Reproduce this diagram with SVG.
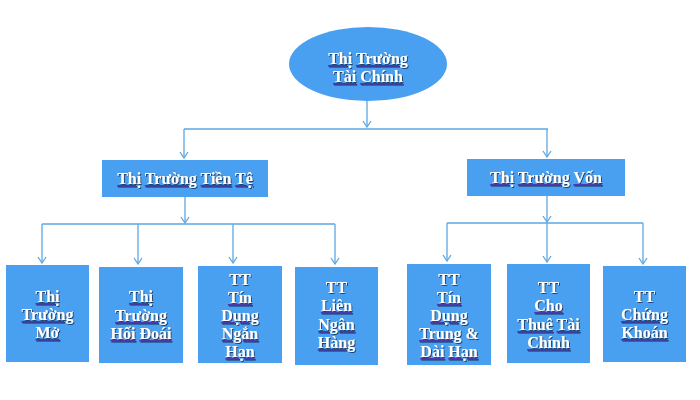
<svg xmlns="http://www.w3.org/2000/svg" width="700" height="400" viewBox="0 0 700 400">
<style>
.node{fill:#499ff0;}
.lbl{font-family:"Liberation Serif","Times New Roman",serif;font-weight:bold;font-size:16px;fill:#ffffff;text-anchor:middle;filter:url(#sh);}
.u{text-decoration:underline;fill:#4a37b0;}
.w{fill:#ffffff;}
.conn{fill:none;stroke:#5ea7e0;stroke-width:1.3;}
</style>
<defs>
<filter id="sh" x="-20%" y="-20%" width="140%" height="140%">
<feDropShadow dx="1" dy="1" stdDeviation="0.3" flood-color="#1a2a4a" flood-opacity="0.8"/>
</filter>
<marker id="arr" viewBox="0 0 8 10" refX="7" refY="5" markerWidth="8" markerHeight="10" markerUnits="userSpaceOnUse" orient="auto">
<path d="M1,1 L7,5 L1,9" fill="none" stroke="#5ea7e0" stroke-width="1.3"/>
</marker>
</defs>
<rect width="700" height="400" fill="#ffffff"/>

<g id="connectors">
<path class="conn" d="M367,100 V127" marker-end="url(#arr)"/>
<path class="conn" d="M184,129 H548"/>
<path class="conn" d="M184,129 V158" marker-end="url(#arr)"/>
<path class="conn" d="M547,129 V157" marker-end="url(#arr)"/>
<path class="conn" d="M185,197 V223" marker-end="url(#arr)"/>
<path class="conn" d="M42,224 H335"/>
<path class="conn" d="M42,224 V263" marker-end="url(#arr)"/>
<path class="conn" d="M138,224 V264" marker-end="url(#arr)"/>
<path class="conn" d="M233,224 V263" marker-end="url(#arr)"/>
<path class="conn" d="M335,224 V264" marker-end="url(#arr)"/>
<path class="conn" d="M547,196 V222" marker-end="url(#arr)"/>
<path class="conn" d="M447,223 H643"/>
<path class="conn" d="M447,223 V261" marker-end="url(#arr)"/>
<path class="conn" d="M547,223 V262" marker-end="url(#arr)"/>
<path class="conn" d="M643,223 V264" marker-end="url(#arr)"/>
</g>

<g id="tai-chinh">
<ellipse class="node" cx="368" cy="64" rx="79" ry="37"/>
<text class="lbl" x="368" y="64"><tspan class="u"><tspan class="w">Thị</tspan></tspan> <tspan class="u"><tspan class="w">Trường</tspan></tspan></text>
<text class="lbl" x="368" y="82"><tspan class="u"><tspan class="w">Tài</tspan></tspan> <tspan class="u"><tspan class="w">Chính</tspan></tspan></text>
</g>

<g id="tien-te">
<rect class="node" x="102" y="160" width="166" height="37"/>
<text class="lbl" x="185" y="184"><tspan class="u"><tspan class="w">Thị</tspan></tspan> <tspan class="u"><tspan class="w">Trường</tspan></tspan> <tspan class="u"><tspan class="w">Tiền</tspan></tspan> <tspan class="u"><tspan class="w">Tệ</tspan></tspan></text>
</g>

<g id="von">
<rect class="node" x="467" y="159" width="158" height="37"/>
<text class="lbl" x="546" y="183"><tspan class="u"><tspan class="w">Thị</tspan></tspan> <tspan class="u"><tspan class="w">Trường</tspan></tspan> <tspan class="u"><tspan class="w">Vốn</tspan></tspan></text>
</g>

<g id="tt-mo">
<rect class="node" x="6" y="265" width="83" height="97"/>
<text class="lbl" x="47.5" y="302"><tspan class="u"><tspan class="w">Thị</tspan></tspan></text>
<text class="lbl" x="47.5" y="320"><tspan class="u"><tspan class="w">Trường</tspan></tspan></text>
<text class="lbl" x="47.5" y="338"><tspan class="u"><tspan class="w">Mở</tspan></tspan></text>
</g>

<g id="tt-hoi-doai">
<rect class="node" x="99" y="267" width="84" height="96"/>
<text class="lbl" x="141" y="302"><tspan class="u"><tspan class="w">Thị</tspan></tspan></text>
<text class="lbl" x="141" y="321"><tspan class="u"><tspan class="w">Trường</tspan></tspan></text>
<text class="lbl" x="141" y="339"><tspan class="u"><tspan class="w">Hối</tspan></tspan> <tspan class="u"><tspan class="w">Đoái</tspan></tspan></text>
</g>

<g id="tt-tin-dung-ngan-han">
<rect class="node" x="198" y="266" width="84" height="97"/>
<text class="lbl" x="240" y="285">TT</text>
<text class="lbl" x="240" y="303"><tspan class="u"><tspan class="w">Tín</tspan></tspan></text>
<text class="lbl" x="240" y="321"><tspan class="u"><tspan class="w">Dụng</tspan></tspan></text>
<text class="lbl" x="240" y="339"><tspan class="u"><tspan class="w">Ngắn</tspan></tspan></text>
<text class="lbl" x="240" y="357"><tspan class="u"><tspan class="w">Hạn</tspan></tspan></text>
</g>

<g id="tt-lien-ngan-hang">
<rect class="node" x="295" y="267" width="83" height="98"/>
<text class="lbl" x="336.5" y="293">TT</text>
<text class="lbl" x="336.5" y="311"><tspan class="u"><tspan class="w">Liên</tspan></tspan></text>
<text class="lbl" x="336.5" y="330"><tspan class="u"><tspan class="w">Ngân</tspan></tspan></text>
<text class="lbl" x="336.5" y="348"><tspan class="u"><tspan class="w">Hàng</tspan></tspan></text>
</g>

<g id="tt-tin-dung-trung-dai-han">
<rect class="node" x="407" y="264" width="84" height="101"/>
<text class="lbl" x="449" y="285">TT</text>
<text class="lbl" x="449" y="303"><tspan class="u"><tspan class="w">Tín</tspan></tspan></text>
<text class="lbl" x="449" y="321"><tspan class="u"><tspan class="w">Dụng</tspan></tspan></text>
<text class="lbl" x="449" y="339"><tspan class="u"><tspan class="w">Trung</tspan></tspan> &amp;</text>
<text class="lbl" x="449" y="357"><tspan class="u"><tspan class="w">Dài</tspan></tspan> <tspan class="u"><tspan class="w">Hạn</tspan></tspan></text>
</g>

<g id="tt-cho-thue-tai-chinh">
<rect class="node" x="507" y="264" width="83" height="99"/>
<text class="lbl" x="548.5" y="293">TT</text>
<text class="lbl" x="548.5" y="311"><tspan class="u"><tspan class="w">Cho</tspan></tspan></text>
<text class="lbl" x="548.5" y="330"><tspan class="u"><tspan class="w">Thuê</tspan></tspan> <tspan class="u"><tspan class="w">Tài</tspan></tspan></text>
<text class="lbl" x="548.5" y="348"><tspan class="u"><tspan class="w">Chính</tspan></tspan></text>
</g>

<g id="tt-chung-khoan">
<rect class="node" x="603" y="266" width="83" height="96"/>
<text class="lbl" x="644.5" y="302">TT</text>
<text class="lbl" x="644.5" y="320"><tspan class="u"><tspan class="w">Chứng</tspan></tspan></text>
<text class="lbl" x="644.5" y="338"><tspan class="u"><tspan class="w">Khoán</tspan></tspan></text>
</g>
</svg>
